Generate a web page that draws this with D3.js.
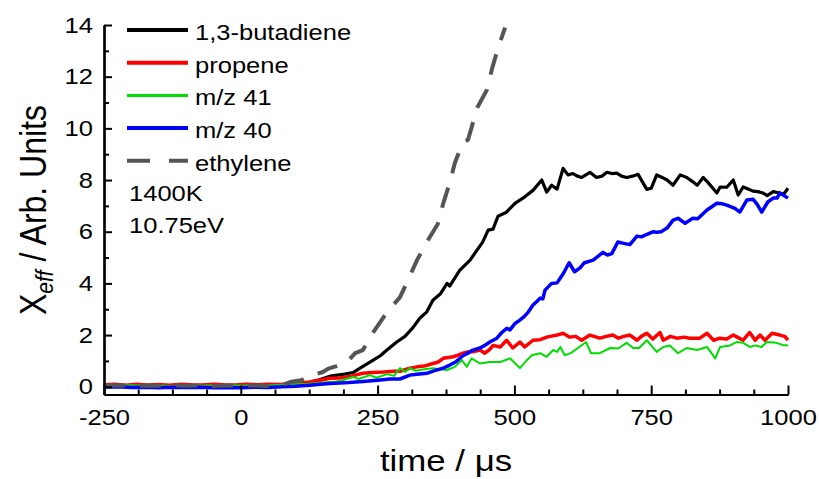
<!DOCTYPE html>
<html>
<head>
<meta charset="utf-8">
<script src="https://cdn.jsdelivr.net/npm/d3@7/dist/d3.min.js"></script>
<style>
  html, body { margin: 0; padding: 0; background: #fff; }
  svg { display: block; font-family: "Liberation Sans", Arial, sans-serif; }
</style>
</head>
<body>
<svg id="chart" width="819" height="479"></svg>
<script>
// Time-resolved effective mole fractions, [time (µs), X_eff]
const butadiene = [[-250,0.02],[-225,0.03],[-200,0.01],[-175,0.03],[-150,0.02],[-125,0.0],[-100,0.02],[-75,0.03],[-50,0.01],[-25,0.02],[0,0.02],[25,0.03],[50,0.04],[75,0.06],[100,0.1],[125,0.17],[145,0.28],[163,0.41],[190,0.49],[205,0.55],[218,0.72],[242,1.03],[255,1.2],[267,1.42],[285,1.73],[300,1.95],[315,2.3],[327,2.65],[340,2.9],[351,3.35],[365,3.6],[377,4.0],[382,3.9],[400,4.5],[419,4.9],[432,5.3],[442,5.6],[452,6.06],[461,6.1],[470,6.6],[485,6.75],[501,7.1],[519,7.35],[534,7.6],[550,8.0],[559,7.53],[568,7.8],[578,7.65],[589,8.45],[598,8.2],[607,8.25],[615,8.15],[623,8.1],[638,8.3],[650,8.1],[660,8.15],[669,8.3],[678,8.25],[687,8.27],[696,8.15],[705,8.1],[716,8.15],[726,8.22],[742,7.64],[750,7.68],[760,8.2],[770,8.1],[779,8.0],[790,7.8],[803,8.2],[815,8.1],[825,7.95],[834,7.8],[845,8.1],[854,7.9],[870,7.5],[876,7.73],[888,7.72],[900,8.0],[909,7.42],[918,7.73],[927,7.65],[936,7.57],[945,7.55],[954,7.5],[962,7.4],[973,7.55],[985,7.5],[992,7.45],[1000,7.68]];

const propene = [[-250,0.08],[-230,0.1],[-210,0.06],[-190,0.1],[-170,0.07],[-150,0.09],[-130,0.06],[-110,0.1],[-90,0.08],[-70,0.07],[-50,0.1],[-30,0.08],[-10,0.07],[10,0.1],[30,0.08],[50,0.1],[70,0.09],[90,0.12],[110,0.15],[126,0.18],[145,0.25],[163,0.33],[180,0.34],[200,0.4],[223,0.52],[240,0.55],[260,0.57],[280,0.6],[291,0.6],[309,0.72],[322,0.77],[335,0.8],[351,0.9],[360,0.95],[370,1.1],[388,1.16],[397,1.22],[406,1.3],[415,1.35],[424,1.35],[437,1.42],[446,1.3],[455,1.45],[461,1.6],[474,1.54],[486,1.8],[497,1.5],[510,1.73],[519,1.54],[534,1.8],[547,1.82],[559,1.92],[568,1.96],[578,2.0],[589,2.07],[601,1.92],[612,1.95],[623,1.8],[638,2.0],[656,1.88],[668,1.95],[680,2.0],[690,1.88],[700,1.95],[711,2.0],[724,1.8],[732,1.95],[742,2.07],[753,1.85],[766,2.1],[772,1.8],[785,1.95],[797,1.88],[810,1.92],[820,1.88],[839,1.88],[852,2.07],[864,1.8],[875,1.88],[888,1.85],[900,2.0],[909,1.9],[918,1.8],[930,2.1],[940,1.8],[949,2.0],[958,1.8],[971,2.07],[985,2.0],[994,1.95],[1000,1.8]];

const mz41 = [[-250,0.05],[-225,0.03],[-200,0.06],[-175,0.04],[-150,0.05],[-125,0.03],[-100,0.06],[-75,0.04],[-50,0.05],[-25,0.07],[0,0.04],[25,0.06],[50,0.05],[75,0.08],[100,0.1],[125,0.12],[145,0.15],[163,0.18],[175,0.2],[187,0.26],[205,0.38],[215,0.3],[236,0.45],[248,0.35],[267,0.49],[280,0.42],[291,0.72],[300,0.57],[309,0.72],[320,0.62],[335,0.68],[351,0.72],[365,0.68],[377,0.65],[391,0.77],[404,1.03],[413,0.77],[422,1.1],[437,0.9],[455,0.96],[474,0.96],[492,1.1],[510,0.72],[523,1.03],[532,1.22],[547,1.3],[559,1.16],[571,1.42],[578,1.35],[584,1.54],[592,1.22],[603,1.3],[616,1.5],[631,1.73],[640,1.3],[656,1.3],[675,1.5],[690,1.48],[705,1.7],[717,1.5],[728,1.5],[742,1.8],[760,1.35],[772,1.54],[784,1.6],[799,1.3],[815,1.5],[834,1.42],[852,1.54],[867,1.1],[876,1.54],[894,1.6],[906,1.73],[918,1.7],[930,1.54],[940,1.6],[952,1.54],[961,1.73],[979,1.7],[990,1.62],[1000,1.6]];

const mz40 = [[-250,-0.02],[-225,0.0],[-200,-0.03],[-175,-0.02],[-150,-0.04],[-125,-0.02],[-100,-0.03],[-75,-0.02],[-50,-0.04],[-25,-0.03],[0,-0.04],[25,-0.02],[50,-0.03],[75,0.0],[100,0.02],[126,0.06],[145,0.1],[163,0.13],[190,0.15],[210,0.18],[223,0.2],[250,0.25],[273,0.3],[291,0.3],[309,0.45],[322,0.48],[340,0.52],[358,0.65],[370,0.72],[382,0.84],[394,0.98],[406,1.2],[415,1.3],[424,1.42],[437,1.5],[446,1.6],[455,1.73],[468,1.88],[477,2.1],[486,2.26],[492,2.2],[501,2.45],[510,2.58],[517,2.7],[525,2.88],[534,3.16],[541,3.3],[547,3.43],[552,3.4],[556,3.74],[568,4.0],[578,4.02],[590,4.4],[600,4.8],[610,4.45],[620,4.6],[628,4.8],[644,4.9],[656,5.1],[662,5.2],[670,5.1],[678,5.15],[689,5.6],[700,5.55],[711,5.5],[724,5.83],[732,5.8],[739,5.87],[754,6.0],[760,5.98],[768,6.0],[779,6.14],[790,6.45],[799,6.52],[812,6.33],[826,6.52],[835,6.5],[852,6.84],[870,7.1],[880,7.08],[888,7.03],[903,6.9],[912,6.76],[925,7.23],[936,7.26],[944,7.05],[952,6.76],[963,7.15],[973,7.3],[980,7.3],[985,7.5],[1000,7.3]];

const ethylene = [[-250,0.05],[-225,0.06],[-200,0.03],[-175,0.05],[-150,0.04],[-125,0.06],[-100,0.04],[-75,0.05],[-50,0.03],[-25,0.05],[0,0.04],[25,0.05],[50,0.03],[72,0.03],[90,0.18],[110,0.25],[132,0.45],[150,0.57],[160,0.7],[175,0.8],[194,0.95],[209,1.3],[223,1.42],[242,2.1],[267,2.88],[291,3.47],[305,4.1],[322,4.9],[342,5.67],[360,6.3],[370,7.1],[382,7.9],[391,8.65],[406,9.47],[415,9.55],[422,10.05],[432,10.8],[450,11.5],[459,12.3],[470,13.1],[483,13.9]];

const seriesNames = ["1,3-butadiene", "propene", "m/z 41", "m/z 40", "ethylene"];
const seriesColors = ["#000000", "#ff0000", "#00dd00", "#0000ff", "#555555"];
const xTicks = [-250, 0, 250, 500, 750, 1000];
const yTicks = [0, 2, 4, 6, 8, 10, 12, 14];
const conditions = ["1400K", "10.75eV"];

// Glyphs in this figure are set slightly wide
const WIDE = 1.16;
function widen(sel) {
  sel.each(function () {
    const w = this.getComputedTextLength();
    d3.select(this).attr("textLength", w * WIDE).attr("lengthAdjust", "spacingAndGlyphs");
  });
}

const svg = d3.select("#chart");
const x = d3.scaleLinear().domain([-250, 1000]).range([104, 788]);
const y = d3.scaleLinear().domain([-0.3, 14]).range([394.5, 25]);

const styles = [
  { w: 3.2, dash: null },
  { w: 3.5, dash: null },
  { w: 2, dash: null },
  { w: 3.5, dash: null },
  { w: 4, dash: "21,15" }
];
const data = [butadiene, propene, mz41, mz40, ethylene];

const line = d3.line().x(d => x(d[0])).y(d => y(d[1]));

data.forEach((s, i) => {
  svg.append("path")
    .attr("d", line(s))
    .attr("fill", "none")
    .attr("stroke", seriesColors[i])
    .attr("stroke-width", styles[i].w)
    .attr("stroke-linejoin", "round")
    .attr("stroke-dasharray", styles[i].dash);
});

// Axes with inward ticks
const xMinor = d3.range(-250, 1000.1, 62.5).filter(v => !xTicks.includes(v));
const yMinor = d3.range(1, 14, 2);
const fmt = d => String(d);

const gx = svg.append("g").attr("transform", `translate(0,${y(-0.3)})`);
gx.call(d3.axisBottom(x).tickValues(xTicks).tickSizeInner(-9).tickSizeOuter(0).tickPadding(15).tickFormat(fmt));
gx.append("g").call(d3.axisBottom(x).tickValues(xMinor).tickSizeInner(-5).tickSizeOuter(0).tickFormat(""));
gx.selectAll(".domain").attr("stroke", "#000").attr("stroke-width", 2.2);

const gy = svg.append("g").attr("transform", `translate(${x(-250)},0)`);
gy.call(d3.axisLeft(y).tickValues(yTicks).tickSizeInner(-8).tickSizeOuter(0).tickPadding(11).tickFormat(fmt));
gy.append("g").call(d3.axisLeft(y).tickValues(yMinor).tickSizeInner(-5).tickSizeOuter(0).tickFormat(""));
gy.selectAll(".domain").attr("stroke", "#000").attr("stroke-width", 2.2);

svg.selectAll(".tick line").attr("stroke", "#000").attr("stroke-width", 2);
svg.selectAll(".tick text")
  .attr("font-family", "Liberation Sans, Arial, sans-serif")
  .attr("font-size", 22).attr("fill", "#000");
gx.selectAll(".tick text").attr("dy", "0.71em");
svg.selectAll(".tick text").call(widen);

// Axis titles
svg.append("text")
  .attr("x", 446).attr("y", 471)
  .attr("text-anchor", "middle")
  .attr("font-size", 30)
  .text("time / \u03bcs")
  .call(widen);

const yt = svg.append("text")
  .attr("transform", `translate(46,210) scale(${WIDE},1) rotate(-90)`)
  .attr("text-anchor", "middle")
  .attr("font-size", 32);
yt.append("tspan").text("X");
yt.append("tspan").attr("font-size", 21).attr("font-style", "italic").attr("dy", 6).text("eff");
yt.append("tspan").attr("dy", -6).text(" / Arb. Units");

// Legend
const lg = svg.append("g");
seriesNames.forEach((name, i) => {
  const yy = 30 + i * 32.7;
  lg.append("line")
    .attr("x1", 127).attr("x2", 188).attr("y1", yy).attr("y2", yy)
    .attr("stroke", seriesColors[i])
    .attr("stroke-width", i === 2 ? 3 : 4)
    .attr("stroke-dasharray", i === 4 ? "23,19" : null);
  lg.append("text")
    .attr("x", 195).attr("y", yy + 10)
    .attr("font-size", 22)
    .text(name)
    .call(widen);
});

conditions.forEach((c, i) => {
  svg.append("text")
    .attr("x", 129).attr("y", 201 + i * 32)
    .attr("font-size", 22)
    .text(c)
    .call(widen);
});
</script>
</body>
</html>
